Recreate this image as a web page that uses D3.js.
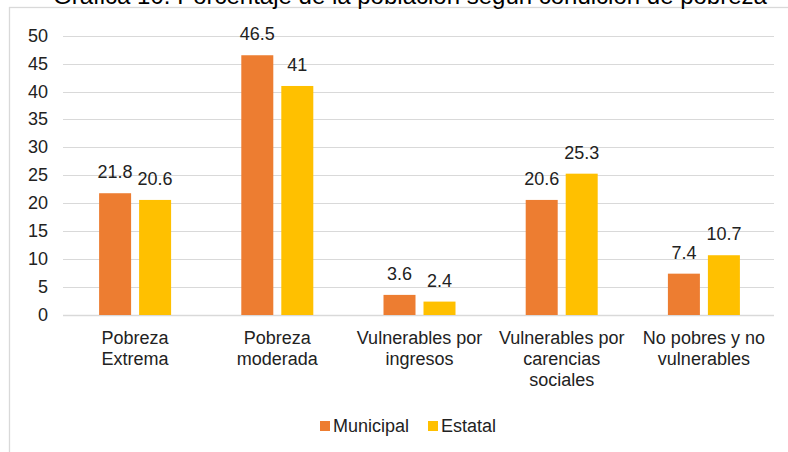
<!DOCTYPE html>
<html lang="es">
<head>
    <meta charset="UTF-8">
    <title>Gráfica 10</title>
    <script src="https://cdn.jsdelivr.net/npm/d3@7"></script>
    <style>
        body { margin: 0; background: white; }
        svg { display: block; font-family: Arial, "Liberation Sans", sans-serif; }
    </style>
</head>
<body>
    <div id="chart"></div>
    <script>
        // Data
        const categories = [
            ["Pobreza", "Extrema"],
            ["Pobreza", "moderada"],
            ["Vulnerables por", "ingresos"],
            ["Vulnerables por", "carencias", "sociales"],
            ["No pobres y no", "vulnerables"]
        ];
        const seriesNames = ["Municipal", "Estatal"];
        const municipal = [21.8, 46.5, 3.6, 20.6, 7.4];
        const estatal = [20.6, 41, 2.4, 25.3, 10.7];
        const yTicks = [0, 5, 10, 15, 20, 25, 30, 35, 40, 45, 50];
        const colors = ["#ED7D31", "#FFC000"];
        const title = "Gráfica 10. Porcentaje de la población según condición de pobreza";

        const width = 788, height = 452;
        const plot = { left: 63, right: 774, top: 35.7, bottom: 315 };

        const svg = d3.select("#chart").append("svg")
            .attr("width", width).attr("height", height);

        // chart frame (cropped on right and bottom)
        svg.append("rect")
            .attr("x", 9.5).attr("y", 7.5)
            .attr("width", 900).attr("height", 600)
            .attr("fill", "none").attr("stroke", "#d9d9d9").attr("stroke-width", 1.3);

        // title, cut off by top of picture
        svg.append("text")
            .attr("x", 410).attr("y", 4)
            .attr("text-anchor", "middle")
            .attr("font-size", 24)
            .attr("fill", "#000")
            .text(title);

        const idx = d3.range(categories.length);
        const x = d3.scaleBand().domain(idx).range([plot.left, plot.right]);
        const y = d3.scaleLinear().domain([0, 50]).range([plot.bottom, plot.top]);

        const barW = 32, gap = 8;

        // gridlines
        svg.append("g").selectAll("line")
            .data(yTicks)
            .join("line")
            .attr("x1", plot.left).attr("x2", plot.right)
            .attr("y1", d => Math.round(y(d)) + 0.5).attr("y2", d => Math.round(y(d)) + 0.5)
            .attr("stroke", "#d9d9d9").attr("stroke-width", d => d === 0 ? 1.5 : 1.2);

        // y tick labels
        svg.append("g").selectAll("text")
            .data(yTicks)
            .join("text")
            .attr("x", 48).attr("y", d => y(d) + 6)
            .attr("text-anchor", "end")
            .attr("font-size", 18)
            .attr("fill", "#222")
            .text(d => d);

        const series = [municipal, estatal];

        series.forEach((vals, s) => {
            const offset = s === 0 ? -(gap / 2 + barW) : gap / 2;
            const g = svg.append("g");
            g.selectAll("rect")
                .data(vals)
                .join("rect")
                .attr("x", (d, i) => x(i) + x.bandwidth() / 2 + offset + 1)
                .attr("y", d => y(d))
                .attr("width", barW)
                .attr("height", d => y(0) - y(d))
                .attr("fill", colors[s]);

            g.selectAll("text")
                .data(vals)
                .join("text")
                .attr("x", (d, i) => x(i) + x.bandwidth() / 2 + offset + 1 + barW / 2)
                .attr("y", d => y(d) - 15)
                .attr("text-anchor", "middle")
                .attr("font-size", 18)
                .attr("fill", "#222")
                .text(d => d);
        });

        // category labels
        const catG = svg.append("g").selectAll("text")
            .data(categories)
            .join("text")
            .attr("text-anchor", "middle")
            .attr("font-size", 18)
            .attr("fill", "#222");

        catG.selectAll("tspan")
            .data((d, i) => d.map(line => ({ line, i })))
            .join("tspan")
            .attr("x", d => x(d.i) + x.bandwidth() / 2 + 1)
            .attr("y", (d, j) => 344 + j * 21)
            .text(d => d.line);

        // legend
        const legendX = [320, 428];
        const legend = svg.append("g");
        seriesNames.forEach((name, s) => {
            legend.append("rect")
                .attr("x", legendX[s]).attr("y", 421)
                .attr("width", 10).attr("height", 10)
                .attr("fill", colors[s]);
            legend.append("text")
                .attr("x", legendX[s] + 13).attr("y", 432)
                .attr("font-size", 18)
                .attr("fill", "#222")
                .text(name);
        });
    </script>
</body>
</html>
